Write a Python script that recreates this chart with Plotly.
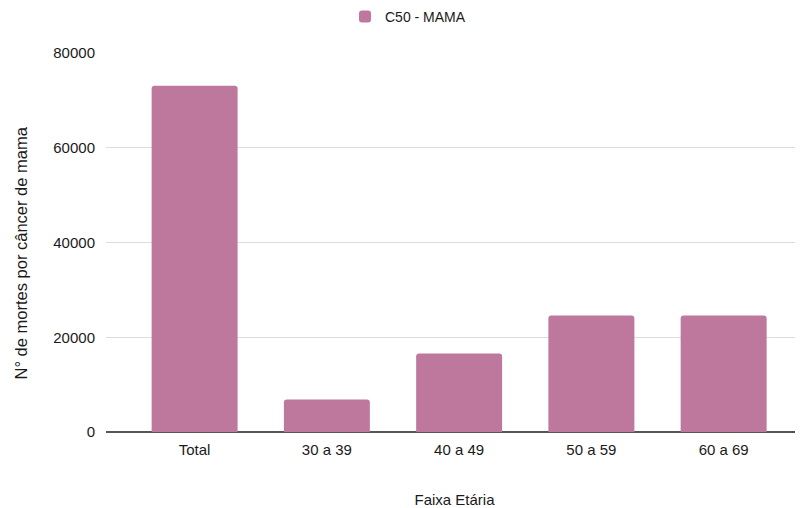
import plotly.graph_objects as go

categories = ["Total", "30 a 39", "40 a 49", "50 a 59", "60 a 69"]
deaths = [73100, 6850, 16550, 24600, 24600]
series_name = "C50 - MAMA"
y_ticks = [0, 20000, 40000, 60000, 80000]
x_title = "Faixa Etária"
y_title = "N° de mortes por câncer de mama"

BAR = "#be779d"
FONT = "Liberation Sans, Arial, sans-serif"
TXT = "#1a1a1a"

W, H = 795, 500
L, T, B = 98, 45, 76
plot_w = W - L

fig = go.Figure()
fig.add_trace(go.Bar(x=categories, y=deaths, name=series_name,
                     marker=dict(color=BAR, line=dict(width=0)),
                     showlegend=True))

fig.update_layout(
    width=W, height=H,
    margin=dict(l=L, r=0, t=T, b=B, autoexpand=False),
    paper_bgcolor="white", plot_bgcolor="white",
    font=dict(family=FONT, size=15, color=TXT),
    bargap=0.35,
    barcornerradius=3,
    showlegend=True,
    legend=dict(orientation="h", xref="container", x=337 / W, xanchor="left",
                yref="container", y=1 - 9 / H, yanchor="middle",
                font=dict(size=14, color=TXT), itemwidth=30),
    xaxis=dict(range=[-0.67, 4.6], showgrid=False, showline=False,
               zeroline=False, ticks="", automargin=False, ticklabelstandoff=7,
               tickfont=dict(size=15, color=TXT),
               title=dict(text=x_title, standoff=40, font=dict(size=15, color=TXT))),
    yaxis=dict(range=[0, 80000], tickvals=y_ticks, ticktext=[str(v) for v in y_ticks],
               showgrid=True, gridcolor="#dcdcdc", gridwidth=1,
               zeroline=True, zerolinecolor="#555", zerolinewidth=1.5,
               showline=False, ticks="", ticklabelstandoff=10, automargin=False,
               tickfont=dict(size=15, color=TXT)),
    annotations=[dict(text=y_title, textangle=-90, showarrow=False,
                      xref="paper", yref="paper",
                      x=(12 - L) / plot_w, y=(424.5 - 246) / 379,
                      xanchor="center", yanchor="middle",
                      font=dict(size=16.5, color=TXT))],
)

fig.write_html("out.html")
